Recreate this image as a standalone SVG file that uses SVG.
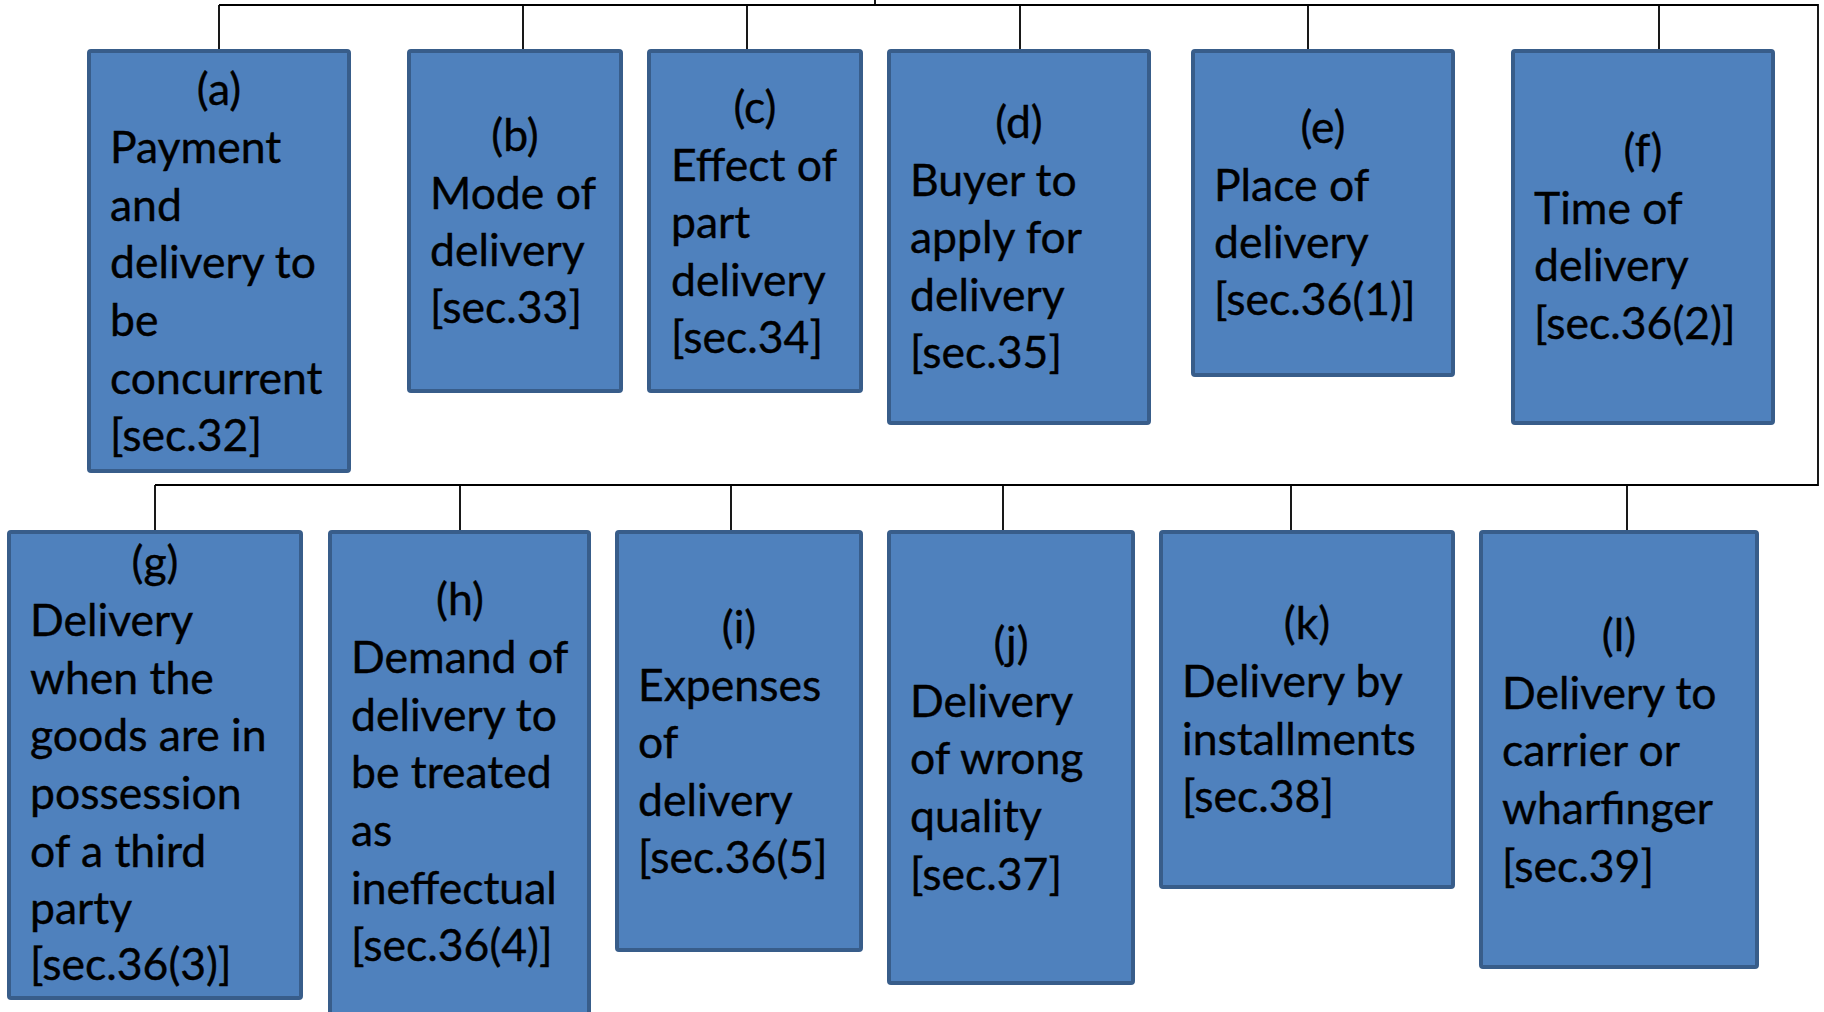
<svg xmlns="http://www.w3.org/2000/svg" width="1824" height="1012" viewBox="0 0 1824 1012">
<style>
.box{fill:#4F81BD;stroke:#385D8A;stroke-width:4}
.t{font-family:Lato,"Liberation Sans",sans-serif;font-size:44.5px;fill:#000;stroke:#000;stroke-width:0.4}
.c{text-anchor:middle}
.ln{stroke:#000;stroke-width:1.8;fill:none}
</style>
<rect width="1824" height="1012" fill="#fff"/>
<g id="connectors">
<path class="ln" d="M875 0V5M219 5H1818V485H155M219 5V51M523 5V51M747 5V51M1020 5V51M1308 5V51M1659 5V51M155 485V532M460 485V532M731 485V532M1003 485V532M1291 485V532M1627 485V532"/>
</g>
<g id="node-a"><rect class="box" x="89" y="51" width="260" height="420" rx="2"/>
<text class="t"><tspan class="c" x="219" y="105">(a)</tspan><tspan x="110" y="163">Payment</tspan><tspan x="110" y="221">and</tspan><tspan x="110" y="278">delivery to</tspan><tspan x="110" y="336">be</tspan><tspan x="110" y="394">concurrent</tspan><tspan x="110" y="451">[sec.32]</tspan></text></g>
<g id="node-b"><rect class="box" x="409" y="51" width="212" height="340" rx="2"/>
<text class="t"><tspan class="c" x="515" y="151">(b)</tspan><tspan x="430" y="209">Mode of</tspan><tspan x="430" y="266">delivery</tspan><tspan x="430" y="323">[sec.33]</tspan></text></g>
<g id="node-c"><rect class="box" x="649" y="51" width="212" height="340" rx="2"/>
<text class="t"><tspan class="c" x="755" y="123">(c)</tspan><tspan x="671" y="181">Effect of</tspan><tspan x="671" y="238">part</tspan><tspan x="671" y="296">delivery</tspan><tspan x="671" y="353">[sec.34]</tspan></text></g>
<g id="node-d"><rect class="box" x="889" y="51" width="260" height="372" rx="2"/>
<text class="t"><tspan class="c" x="1019" y="138">(d)</tspan><tspan x="910" y="196">Buyer to</tspan><tspan x="910" y="253">apply for</tspan><tspan x="910" y="311">delivery</tspan><tspan x="910" y="368">[sec.35]</tspan></text></g>
<g id="node-e"><rect class="box" x="1193" y="51" width="260" height="324" rx="2"/>
<text class="t"><tspan class="c" x="1323" y="143">(e)</tspan><tspan x="1214" y="201">Place of</tspan><tspan x="1214" y="258">delivery</tspan><tspan x="1214" y="315">[sec.36(1)]</tspan></text></g>
<g id="node-f"><rect class="box" x="1513" y="51" width="260" height="372" rx="2"/>
<text class="t"><tspan class="c" x="1643" y="166">(f)</tspan><tspan x="1534" y="224">Time of</tspan><tspan x="1534" y="281">delivery</tspan><tspan x="1534" y="339">[sec.36(2)]</tspan></text></g>
<g id="node-g"><rect class="box" x="9" y="532" width="292" height="466" rx="2"/>
<text class="t"><tspan class="c" x="155" y="578">(g)</tspan><tspan x="30" y="636">Delivery</tspan><tspan x="30" y="694">when the</tspan><tspan x="30" y="751">goods are in</tspan><tspan x="30" y="809">possession</tspan><tspan x="30" y="867">of a third</tspan><tspan x="30" y="924">party</tspan><tspan x="30" y="980">[sec.36(3)]</tspan></text></g>
<g id="node-h"><rect class="box" x="330" y="532" width="259" height="500" rx="2"/>
<text class="t"><tspan class="c" x="460" y="615">(h)</tspan><tspan x="351" y="673">Demand of</tspan><tspan x="351" y="731">delivery to</tspan><tspan x="351" y="788">be treated</tspan><tspan x="351" y="846">as</tspan><tspan x="351" y="904">ineffectual</tspan><tspan x="351" y="961">[sec.36(4)]</tspan></text></g>
<g id="node-i"><rect class="box" x="617" y="532" width="244" height="418" rx="2"/>
<text class="t"><tspan class="c" x="739" y="643">(i)</tspan><tspan x="638" y="701">Expenses</tspan><tspan x="638" y="758">of</tspan><tspan x="638" y="816">delivery</tspan><tspan x="638" y="873">[sec.36(5]</tspan></text></g>
<g id="node-j"><rect class="box" x="889" y="532" width="244" height="451" rx="2"/>
<text class="t"><tspan class="c" x="1011" y="659">(j)</tspan><tspan x="910" y="717">Delivery</tspan><tspan x="910" y="774">of wrong</tspan><tspan x="910" y="832">quality</tspan><tspan x="910" y="890">[sec.37]</tspan></text></g>
<g id="node-k"><rect class="box" x="1161" y="532" width="292" height="355" rx="2"/>
<text class="t"><tspan class="c" x="1307" y="639">(k)</tspan><tspan x="1182" y="697">Delivery by</tspan><tspan x="1182" y="755">installments</tspan><tspan x="1182" y="812">[sec.38]</tspan></text></g>
<g id="node-l"><rect class="box" x="1481" y="532" width="276" height="435" rx="2"/>
<text class="t"><tspan class="c" x="1619" y="651">(l)</tspan><tspan x="1502" y="709">Delivery to</tspan><tspan x="1502" y="766">carrier or</tspan><tspan x="1502" y="824">wharfinger</tspan><tspan x="1502" y="882">[sec.39]</tspan></text></g>
</svg>
